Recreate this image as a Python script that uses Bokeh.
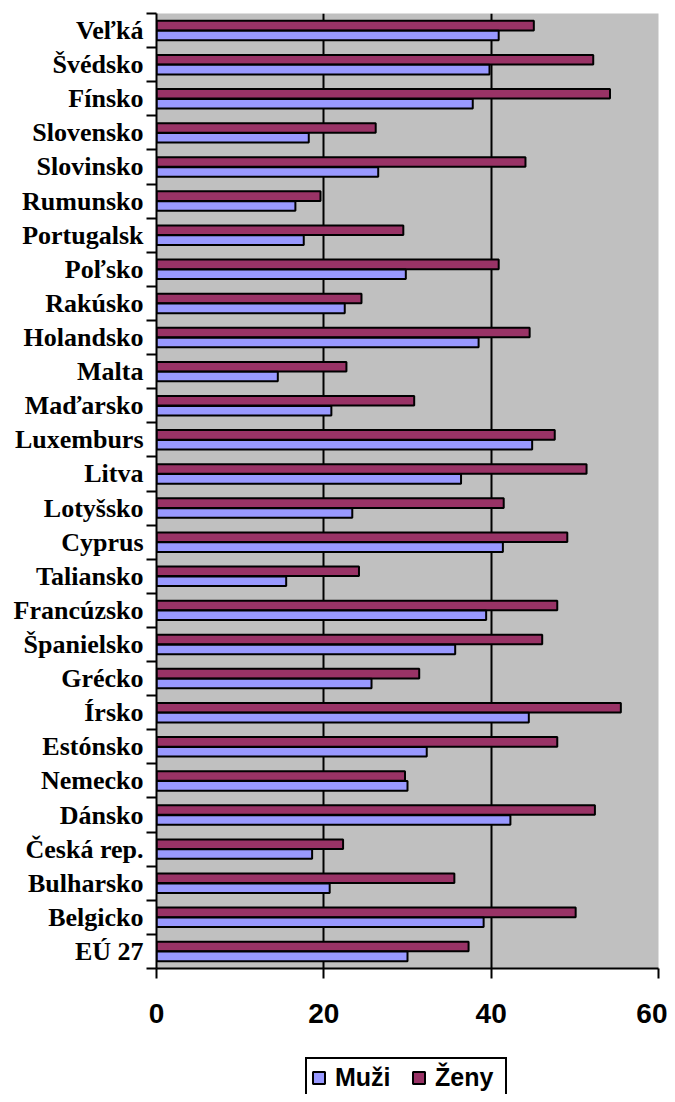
from bokeh.plotting import figure
from bokeh.layouts import column
from bokeh.models import Range1d, FixedTicker, Legend, LegendItem, ColumnDataSource, Grid
from bokeh.transform import dodge
from bokeh.embed import file_html
from bokeh.resources import INLINE

# Categories, top to bottom as in the chart
countries = ["Veľká", "Švédsko", "Fínsko", "Slovensko", "Slovinsko", "Rumunsko",
             "Portugalsk", "Poľsko", "Rakúsko", "Holandsko", "Malta", "Maďarsko",
             "Luxemburs", "Litva", "Lotyšsko", "Cyprus", "Taliansko", "Francúzsko",
             "Španielsko", "Grécko", "Írsko", "Estónsko", "Nemecko", "Dánsko",
             "Česká rep.", "Bulharsko", "Belgicko", "EÚ 27"]
zeny = [45.1, 52.2, 54.2, 26.2, 44.1, 19.6, 29.5, 40.9, 24.5, 44.6, 22.7, 30.8,
        47.6, 51.4, 41.5, 49.1, 24.2, 47.9, 46.1, 31.4, 55.5, 47.9, 29.7, 52.4,
        22.3, 35.6, 50.1, 37.3]
muzi = [40.9, 39.8, 37.8, 18.2, 26.5, 16.6, 17.6, 29.8, 22.5, 38.5, 14.5, 20.9,
        44.9, 36.4, 23.4, 41.4, 15.5, 39.4, 35.7, 25.7, 44.5, 32.3, 30.0, 42.3,
        18.6, 20.7, 39.1, 30.0]
series_names = ["Muži", "Ženy"]
x_ticks = [0, 20, 40, 60]
grid_ticks = [20, 40]
x_max = 60

ZENY_COLOR = "#993366"
MUZI_COLOR = "#9999FF"

n = len(countries)
pos = [float(n - 1 - i) + 0.5 for i in range(n)]
src = ColumnDataSource(dict(pos=pos, zeny=zeny, muzi=muzi, name=countries))

p = figure(width=667, height=1042,
           x_range=Range1d(0, x_max), y_range=Range1d(0, n),
           output_backend="svg", toolbar_location=None,
           min_border_left=156, min_border_right=9,
           min_border_top=13, min_border_bottom=74)
p.background_fill_color = "#C0C0C0"
p.border_fill_color = "white"
p.outline_line_color = None

rz = p.hbar(y=dodge("pos", 0.145, range=p.y_range), right="zeny", left=0,
            height=0.28, fill_color=ZENY_COLOR, line_color="black",
            line_width=2, source=src)
rm = p.hbar(y=dodge("pos", -0.145, range=p.y_range), right="muzi", left=0,
            height=0.28, fill_color=MUZI_COLOR, line_color="black",
            line_width=2, source=src)

# x axis
xa = p.xaxis[0]
xa.ticker = FixedTicker(ticks=x_ticks)
xa.axis_line_color = "black"
xa.axis_line_width = 2
xa.major_tick_line_color = "black"
xa.major_tick_line_width = 2
xa.major_tick_out = 10
xa.major_tick_in = 0
xa.minor_tick_out = 0
xa.minor_tick_in = 0
xa.major_label_standoff = 25
xa.major_label_text_font = "Liberation Sans"
xa.major_label_text_font_style = "bold"
xa.major_label_text_font_size = "28px"
xa.major_label_text_color = "black"

# y axis: labels at band centres, tick marks at band boundaries
ya = p.yaxis[0]
ya.ticker = FixedTicker(ticks=pos, minor_ticks=list(range(n + 1)))
ya.major_label_overrides = {pp: nm for pp, nm in zip(pos, countries)}
ya.axis_line_color = "black"
ya.axis_line_width = 2
ya.major_tick_out = 0
ya.major_tick_in = 0
ya.minor_tick_out = 10
ya.minor_tick_in = 0
ya.minor_tick_line_color = "black"
ya.minor_tick_line_width = 2
ya.major_label_standoff = 3
ya.major_label_text_font = "Liberation Serif"
ya.major_label_text_font_style = "bold"
ya.major_label_text_font_size = "26px"
ya.major_label_text_color = "black"

# grid
p.ygrid.visible = False
p.xgrid.ticker = FixedTicker(ticks=grid_ticks)
p.xgrid.grid_line_color = "black"
p.xgrid.grid_line_width = 2
edge = Grid(dimension=0, ticker=FixedTicker(ticks=[x_max]),
            grid_line_color="#A8A8A8", grid_line_width=1.5)
p.add_layout(edge)

# Legend strip below the chart (its own small figure, renderers hidden)
pl = figure(width=667, height=52, output_backend="svg", toolbar_location=None,
            x_axis_location=None, y_axis_location=None,
            min_border_left=0, min_border_right=0,
            min_border_top=0, min_border_bottom=0)
pl.outline_line_color = None
pl.background_fill_color = "white"
pl.border_fill_color = "white"
pl.grid.visible = False
lm = pl.hbar(y="pos", right="muzi", left=0, height=0.28, fill_color=MUZI_COLOR,
             line_color="black", line_width=2, source=src, visible=False)
lz = pl.hbar(y="pos", right="zeny", left=0, height=0.28, fill_color=ZENY_COLOR,
             line_color="black", line_width=2, source=src, visible=False)

legend = Legend(items=[LegendItem(label=series_names[0], renderers=[lm]),
                       LegendItem(label=series_names[1], renderers=[lz])],
                orientation="horizontal", location=(149, -4),
                border_line_color="black", border_line_width=2,
                border_line_alpha=1.0,
                background_fill_color="white", background_fill_alpha=1.0,
                label_text_font="Liberation Sans", label_text_font_style="bold",
                label_text_font_size="25px", label_text_color="black",
                glyph_width=15, glyph_height=15, label_standoff=9,
                label_width=66, spacing=10, padding=4, margin=0)
pl.add_layout(legend)

layout = column(p, pl, spacing=0)
open("out.html", "w").write(file_html(layout, INLINE))
